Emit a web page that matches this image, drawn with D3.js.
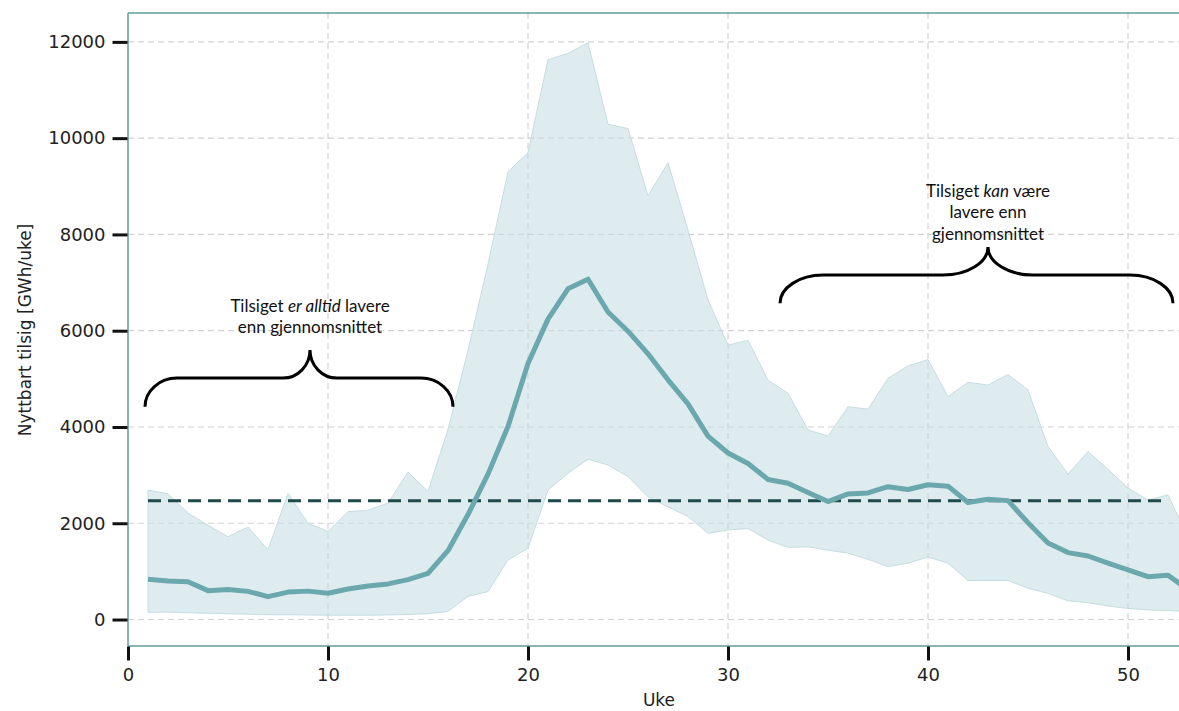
<!DOCTYPE html>
<html>
<head>
<meta charset="utf-8">
<script src="https://cdn.jsdelivr.net/npm/d3@7"></script>
<style>
  body { margin: 0; background: #fff; }
  .tick text { font-family: "DejaVu Sans", sans-serif; fill: #222; }
</style>
</head>
<body>
<div id="chart"></div>
<script>
// uke 1..53
var weeks = d3.range(1, 54);
var median = [835, 800, 785, 600, 625, 585, 475, 570, 590, 545, 635, 695, 740, 830, 960, 1430, 2180, 3020, 4010, 5320,
  6240, 6870, 7070, 6390, 5990, 5520, 4980, 4480, 3810, 3460, 3240, 2910, 2830, 2640, 2450, 2610, 2630, 2760, 2700, 2800,
  2770, 2430, 2500, 2470, 2010, 1590, 1390, 1320, 1170, 1030, 890, 920, 620];
var upper = [2690, 2610, 2210, 1960, 1720, 1920, 1450, 2620, 2000, 1830, 2240, 2270, 2420, 3060, 2660, 3950, 5590, 7380, 9300, 9700,
  11630, 11760, 11980, 10290, 10200, 8800, 9490, 8090, 6640, 5700, 5800, 4970, 4700, 3940, 3810, 4420, 4370, 5010, 5270, 5400,
  4630, 4930, 4870, 5090, 4770, 3590, 3020, 3490, 3120, 2730, 2480, 2590, 1700];
var lower = [150, 155, 140, 130, 120, 110, 100, 100, 95, 90, 90, 90, 95, 105, 120, 170, 480, 580, 1240, 1480,
  2690, 3040, 3330, 3210, 2970, 2550, 2340, 2140, 1790, 1860, 1890, 1650, 1500, 1510, 1440, 1380, 1250, 1100, 1170, 1300,
  1170, 810, 810, 810, 650, 545, 390, 350, 280, 230, 200, 185, 170];
var average = 2470;
var averageWeeks = [1, 52];
var xTicks = [0, 10, 20, 30, 40, 50];
var yTicks = [0, 2000, 4000, 6000, 8000, 10000, 12000];

// klammer: [fra uke, til uke, midt uke, tupp, linje, topp]
var braceLeft = [0.85, 16.25, 9.1, 4420, 5015, 5600];
var braceRight = [32.6, 52.25, 43.0, 6570, 7155, 7740];

var W = 1179, H = 711;
var pl = 128, pt = 13, pr = 1198, pb = 646;

var svg = d3.select("#chart").append("svg")
  .attr("width", W).attr("height", H);

var x = d3.scaleLinear().domain([0, 53.5]).range([pl, pr]);
var y = d3.scaleLinear().domain([-550, 12600]).range([pb, pt]);

svg.append("defs").append("clipPath").attr("id", "plot")
  .append("rect").attr("x", pl).attr("y", pt)
  .attr("width", pr - pl).attr("height", pb - pt);

// grid
svg.append("g").selectAll("line").data(xTicks.filter(d => d > 0)).enter().append("line")
  .attr("x1", d => x(d)).attr("x2", d => x(d)).attr("y1", pt).attr("y2", pb)
  .attr("stroke", "#d2d2d2").attr("stroke-width", 1.2).attr("stroke-dasharray", "6,4");
svg.append("g").selectAll("line").data(yTicks).enter().append("line")
  .attr("x1", pl).attr("x2", pr).attr("y1", d => y(d)).attr("y2", d => y(d))
  .attr("stroke", "#d2d2d2").attr("stroke-width", 1.2).attr("stroke-dasharray", "6,4");

var rows = weeks.map((w, i) => ({ w: w, m: median[i], hi: upper[i], lo: lower[i] }));
var plot = svg.append("g").attr("clip-path", "url(#plot)");

var area = d3.area().x(d => x(d.w)).y0(d => y(d.lo)).y1(d => y(d.hi));
plot.append("path").datum(rows)
  .attr("d", area)
  .attr("fill", "#c5dde1").attr("fill-opacity", 0.55)
  .attr("stroke", "#c5dde1").attr("stroke-width", 1);

plot.append("line")
  .attr("x1", x(averageWeeks[0])).attr("x2", x(averageWeeks[1]))
  .attr("y1", y(average)).attr("y2", y(average))
  .attr("stroke", "#1e4a4c").attr("stroke-width", 3).attr("stroke-dasharray", "13,7");

var line = d3.line().x(d => x(d.w)).y(d => y(d.m));
plot.append("path").datum(rows)
  .attr("d", line)
  .attr("fill", "none").attr("stroke", "#6aa8ae").attr("stroke-width", 5)
  .attr("stroke-linejoin", "round");

// spines
var spine = "#5f9c99";
svg.append("line").attr("x1", pl).attr("x2", pl).attr("y1", pt).attr("y2", pb)
  .attr("stroke", spine).attr("stroke-width", 1.5);
svg.append("line").attr("x1", pl).attr("x2", pr).attr("y1", pt).attr("y2", pt)
  .attr("stroke", spine).attr("stroke-width", 1.5);
svg.append("line").attr("x1", pl).attr("x2", pr).attr("y1", pb).attr("y2", pb)
  .attr("stroke", spine).attr("stroke-width", 1.5);

// axes
var yAxis = svg.append("g").attr("transform", `translate(${pl - 0.5},0)`)
  .call(d3.axisLeft(y).tickValues(yTicks).tickFormat(d3.format("d")).tickSize(15).tickPadding(7));
var xAxis = svg.append("g").attr("transform", `translate(0,${pb + 0.5})`)
  .call(d3.axisBottom(x).tickValues(xTicks).tickFormat(d3.format("d")).tickSize(14).tickPadding(8));
[yAxis, xAxis].forEach(function(a) {
  a.select(".domain").remove();
  a.selectAll(".tick line").attr("stroke", "#111").attr("stroke-width", 3);
  a.selectAll(".tick text").attr("font-size", 18);
});

svg.append("text")
  .attr("transform", "translate(31,330) rotate(-90)")
  .attr("text-anchor", "middle")
  .attr("font-family", "DejaVu Sans, sans-serif").attr("font-size", 17).attr("fill", "#222")
  .text("Nyttbart tilsig [GWh/uke]");
svg.append("text")
  .attr("x", 659).attr("y", 706)
  .attr("text-anchor", "middle")
  .attr("font-family", "DejaVu Sans, sans-serif").attr("font-size", 17).attr("fill", "#222")
  .text("Uke");

// klammer
function brace(b, r1, r2) {
  var x1 = x(b[0]), x2 = x(b[1]), xc = x(b[2]);
  var yt = y(b[3]), yh = y(b[4]), yp = y(b[5]);
  var k = 0.55;
  return `M${x1},${yt} C${x1},${yt - k * (yt - yh)} ${x1 + r1 * (1 - k)},${yh} ${x1 + r1},${yh}` +
    ` L${xc - r2},${yh} C${xc - r2 * (1 - k)},${yh} ${xc},${yp + k * (yh - yp)} ${xc},${yp}` +
    ` C${xc},${yp + k * (yh - yp)} ${xc + r2 * (1 - k)},${yh} ${xc + r2},${yh}` +
    ` L${x2 - r1},${yh} C${x2 - r1 * (1 - k)},${yh} ${x2},${yt - k * (yt - yh)} ${x2},${yt}`;
}
svg.append("path").attr("d", brace(braceLeft, 32, 27))
  .attr("fill", "none").attr("stroke", "#000").attr("stroke-width", 3);
svg.append("path").attr("d", brace(braceRight, 43, 45))
  .attr("fill", "none").attr("stroke", "#000").attr("stroke-width", 3);

function note(xw, yv, lines) {
  var t = svg.append("text")
    .attr("text-anchor", "middle")
    .attr("font-family", "Lato, 'Open Sans', sans-serif").attr("font-size", 17).attr("fill", "#111");
  lines.forEach(function(parts, i) {
    var row = t.append("tspan").attr("x", x(xw)).attr("y", y(yv) + i * 21.5);
    parts.forEach(function(p) {
      row.append("tspan").attr("font-style", p[1] ? "italic" : null).text(p[0]);
    });
  });
}
note(9.1, 6390, [[["Tilsiget ", 0], ["er alltid", 1], [" lavere", 0]], [["enn gjennomsnittet", 0]]]);
note(43.0, 8780, [[["Tilsiget ", 0], ["kan", 1], [" være", 0]], [["lavere enn", 0]], [["gjennomsnittet", 0]]]);
</script>
</body>
</html>
